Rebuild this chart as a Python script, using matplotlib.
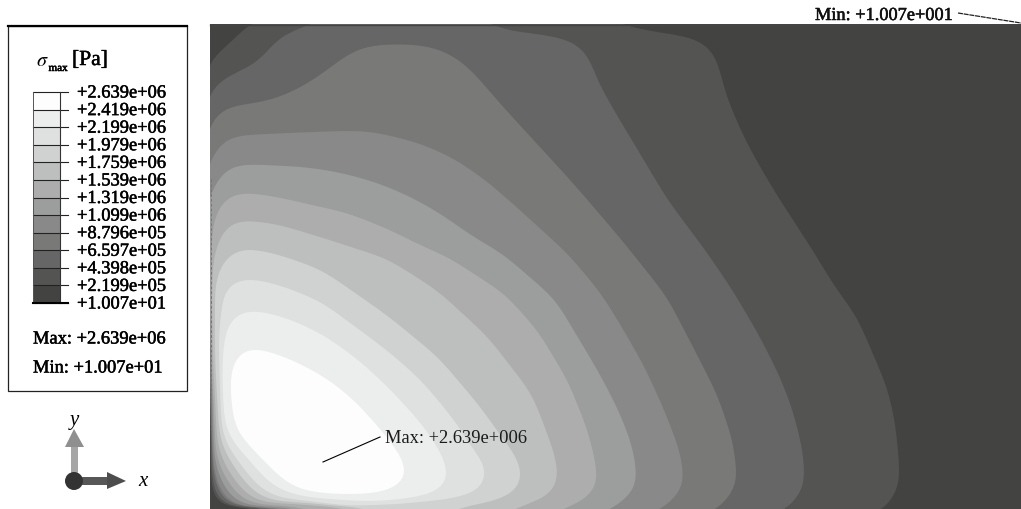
import matplotlib
matplotlib.use('Agg')
import matplotlib.pyplot as plt
import matplotlib.patheffects as pe
from matplotlib.patches import Polygon, Rectangle, Circle
import numpy as np

plt.rcParams['font.family'] = ['Liberation Serif', 'DejaVu Serif']
plt.rcParams['mathtext.fontset'] = 'stix'

# Legend values, top to bottom
tick_labels = ['+2.639e+06', '+2.419e+06', '+2.199e+06', '+1.979e+06', '+1.759e+06',
               '+1.539e+06', '+1.319e+06', '+1.099e+06', '+8.796e+05', '+6.597e+05',
               '+4.398e+05', '+2.199e+05', '+1.007e+01']
band_colors = ['#fdfdfd', '#eceeed', '#dfe1e1', '#d0d1d1', '#bdbfbf', '#adadad',
               '#9b9e9d', '#898989', '#797977', '#666666', '#545453', '#434341']

# Iso-stress outlines, in image pixels, lowest level first
level_2 = [(206, 66), (210, 62), (250, 25), (254, 20), (614, 20), (618, 25), (650, 32), (690, 38), (710, 47),
           (718, 63), (725, 93), (737, 123), (750, 150), (773, 190), (815, 255), (833, 285), (857, 318),
           (873, 355), (887, 388), (895, 422), (899, 462), (900, 485), (893, 500), (883, 510), (878, 516),
           (266, 516), (261.7, 510), (238, 508.5), (222, 507), (217, 504), (214, 500), (212, 492),
           (211, 480), (210.3, 420), (210, 400), (206, 396)]
level_3 = [(206, 103), (210, 95), (215, 85), (232, 75), (252, 67), (263, 58), (275, 42), (288, 33), (312, 26),
           (316, 20), (486, 20), (490, 26), (505, 31), (552, 37), (575, 43), (588, 55), (598, 83), (615, 113),
           (633, 143), (667, 200), (708, 255), (733, 292), (760, 338), (780, 378), (793, 412), (803, 452),
           (805, 488), (798, 498), (786, 510), (781, 516), (276, 516), (271.7, 510), (248, 508.5), (226, 506.5),
           (220, 503), (216.5, 498), (213.5, 488), (211.7, 474), (210.7, 420), (210, 390), (206, 386)]
level_4 = [(206, 136), (210, 128), (215, 117), (225, 108), (242, 106), (272, 101), (298, 90), (322, 75), (345, 57),
           (362, 48), (388, 45), (422, 46), (445, 52), (462, 63), (472, 72), (505, 110), (572, 183), (615, 233),
           (633, 255), (667, 298), (693, 348), (717, 395), (733, 442), (738, 485), (732, 495), (717, 510),
           (712, 516), (286, 516), (281.7, 510), (258, 508.5), (231, 506), (224, 502), (219.5, 495),
           (215, 484), (212.5, 468), (211.3, 420), (210, 370), (206, 366)]
level_5 = [(206, 171), (210, 163), (218, 147), (228, 138), (245, 136), (288, 134), (338, 132), (368, 132), (392, 137),
           (422, 145), (455, 160), (488, 183), (522, 213), (568, 255), (600, 293), (620, 325), (643, 365), (663, 408),
           (680, 452), (685, 485), (678, 497), (660, 510), (655, 516), (296, 516), (291.7, 510), (268.3, 509),
           (236.7, 506.7), (227.7, 503.3), (221.7, 494), (216, 481.7), (213, 463.3), (212, 420), (210.5, 350),
           (210, 330), (206, 326)]
level_6 = [(206, 205), (210, 197), (217, 182), (225, 170), (238, 165), (265, 166), (305, 168), (338, 173), (372, 182),
           (405, 195), (438, 213), (472, 237), (503, 255), (555, 300), (598, 372), (617, 408), (632, 445), (638, 482),
           (633, 495), (610, 510), (605, 516), (306, 516), (301.7, 510), (278.3, 508.3), (245, 506), (233.3, 501.7),
           (225.7, 490), (218.3, 476.7), (214, 458.3), (213, 420), (211, 350), (210, 300), (206, 296)]
level_7 = [(211, 300), (212, 230), (215, 217), (222, 202), (233, 194), (253, 194), (287, 200), (320, 208), (345, 213),
           (388, 230), (422, 247), (448, 258), (505, 295), (538, 332), (568, 382), (588, 432), (597, 470), (598, 487),
           (587, 500), (562, 510), (557, 516), (316, 516), (311.7, 510), (288.3, 507), (253.3, 505), (240, 499.3),
           (230, 485.7), (221, 471.7), (215.3, 453.3), (214.3, 420), (211.5, 360)]
level_8 = [(212, 300), (213, 260), (220, 237), (230, 223), (243, 221), (277, 225), (320, 238), (388, 260), (438, 292),
           (488, 338), (532, 395), (553, 450), (558, 470), (558, 487), (547, 498), (513, 510), (508, 516), (356, 516),
           (352, 510), (305, 505.7), (261.7, 503.3), (246.7, 496.7), (235, 481.7), (225, 466.7), (217.3, 448.3),
           (216, 420), (213, 360)]
level_9 = [(215, 300), (215, 283), (222, 263), (233, 252), (247, 249), (277, 255), (320, 270), (338, 282), (388, 317),
           (438, 358), (478, 405), (512, 452), (520, 463), (523, 482), (513, 495), (490, 503), (453, 510), (449, 516),
           (377, 516), (372, 510), (355, 508.5), (305, 503.7), (270, 501.7), (253.3, 493.3), (240, 476.7), (230, 461.7),
           (220, 443.3), (218.3, 420), (215, 360)]
level_10 = [(219, 330), (222, 310), (223, 293), (233, 282), (247, 279), (277, 285), (320, 302), (338, 315), (388, 352),
            (422, 382), (455, 422), (478, 458), (485, 463), (487, 480), (480, 492), (450, 500), (400, 505), (350, 507),
            (305, 501.7), (276.7, 498.3), (260, 490), (246.7, 473.3), (235, 458.3), (223.3, 440), (221, 420), (219, 360)]
level_11 = [(222, 367), (225, 333), (232, 317), (248, 310), (285, 318), (322, 335), (355, 358), (388, 388), (422, 425),
            (442, 455), (449, 475), (449, 480), (440, 492), (417, 498), (383, 502), (355, 502), (305, 498), (285, 493),
            (270, 485), (255, 468), (242, 453), (228, 437), (224, 420)]
level_12 = [(230, 382), (232, 367), (237, 355), (248, 349), (262, 350), (295, 362), (328, 380), (355, 402), (382, 432),
            (402, 458), (407, 472), (405, 482), (393, 490), (370, 495), (332, 495), (305, 492), (288, 485), (277, 475),
            (262, 460), (248, 445), (237, 433), (233, 420), (231, 395)]
levels = [level_2, level_3, level_4, level_5, level_6, level_7, level_8, level_9, level_10, level_11, level_12]


def smooth(pts, step=2.0, width=7):
    # resample the outline evenly, then run a short moving average around it
    pts = np.array(pts, dtype=float)
    dense = []
    for a, b in zip(pts, np.roll(pts, -1, axis=0)):
        n = int(np.hypot(*(b - a)) // step) + 1
        dense.extend(a + (b - a) * i / n for i in range(n))
    pts = np.array(dense)
    for _ in range(2):
        pts = np.mean([np.roll(pts, k, axis=0) for k in range(-width, width + 1)], axis=0)
    return pts


fig = plt.figure(figsize=(10.21, 5.10), dpi=100)
ax = fig.add_axes([0, 0, 1, 1])
ax.set_xlim(0, 1021)
ax.set_ylim(510, 0)
ax.axis('off')

# Contour field
field = Rectangle((210, 25), 811, 485, facecolor=band_colors[-1], edgecolor='none', zorder=1)
ax.add_patch(field)
for outline, color in zip(levels, band_colors[-2::-1]):
    patch = Polygon(smooth(outline), closed=True, facecolor=color, edgecolor='none', zorder=2)
    ax.add_patch(patch)
    patch.set_clip_path(field)
ax.plot([210, 1021], [25.5, 25.5], color='#444444', lw=1, zorder=3)
ax.plot([210.5, 210.5], [180, 430], color='#777777', lw=0.7, ls=(0, (3, 2)), zorder=3)

# Leader lines and labels on the field
bold = [pe.withStroke(linewidth=0.35, foreground='black')]
ax.plot([323, 380], [463, 438], color='black', lw=0.8, zorder=4)
ax.plot([958, 1021], [14, 24], color='#222222', lw=0.9, ls=(0, (4, 0.6)), zorder=4, clip_on=False)
ax.text(385, 439, 'Max: +2.639e+006', fontsize=13.3, color='#1a1a1a', va='center', ha='left', zorder=5)
ax.text(815, 16.5, 'Min: +1.007e+001', fontsize=13.2, color='#111111', va='center', ha='left', zorder=5,
        path_effects=bold)

# Legend box
ax.add_patch(Rectangle((8, 27), 179, 365, facecolor='white', edgecolor='#222222', lw=0.9, zorder=1))
ax.plot([8, 187], [27, 27], color='black', lw=1.6, zorder=2)
ax.text(35.5, 62, r'$\sigma$', fontsize=14.5, color='black', va='center', ha='left')
ax.text(48.5, 69.5, 'max', fontsize=8, color='black', va='center', ha='left', path_effects=bold)
ax.text(72, 61.5, '[Pa]', fontsize=15.5, color='black', va='center', ha='left', path_effects=bold)

bar_top, bar_bottom = 93, 304
edges = np.linspace(bar_top, bar_bottom, len(tick_labels))
for top, bot, color in zip(edges[:-1], edges[1:], band_colors):
    ax.add_patch(Rectangle((33, top), 27, bot - top, facecolor=color, edgecolor='none', zorder=2))
for y, label in zip(edges, tick_labels):
    ax.plot([33, 68], [y, y], color='#222222', lw=0.8, zorder=3)
    ax.text(77, y + 1, label, fontsize=13.3, color='black', va='center', ha='left', zorder=3, path_effects=bold)
ax.plot([33, 33], [bar_top, bar_bottom], color='#555555', lw=0.7, zorder=3)
ax.plot([60, 60], [bar_top, bar_bottom], color='#333333', lw=0.8, zorder=3)
ax.plot([33, 68], [bar_bottom, bar_bottom], color='black', lw=1.5, zorder=3)

ax.text(33, 340, 'Max: +2.639e+06', fontsize=13.3, color='black', va='center', ha='left', path_effects=bold)
ax.text(33, 369, 'Min: +1.007e+01', fontsize=13.3, color='black', va='center', ha='left', path_effects=bold)

# Axis triad
ax.add_patch(Rectangle((71, 448), 7, 30, facecolor='#a6a6a6', edgecolor='none', zorder=2))
ax.add_patch(Polygon([(65, 448), (84, 448), (74, 430)], facecolor='#8f8f8f', edgecolor='none', zorder=2))
ax.add_patch(Rectangle((78, 478), 30, 8, facecolor='#575757', edgecolor='none', zorder=2))
ax.add_patch(Polygon([(107, 473), (107, 490), (126, 482)], facecolor='#4d4d4d', edgecolor='none', zorder=2))
ax.add_patch(Circle((74, 482), 9, facecolor='#333333', edgecolor='none', zorder=3))
ax.text(74, 421, 'y', fontsize=15, style='italic', color='black', va='center', ha='center')
ax.text(143, 482, 'x', fontsize=15, style='italic', color='black', va='center', ha='center')

fig.savefig('out.png', dpi=100, facecolor='white')
